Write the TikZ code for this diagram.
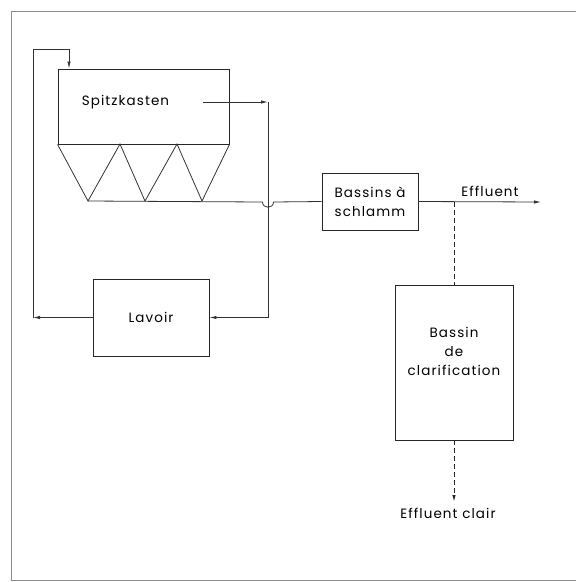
\documentclass[tikz,border=0pt]{standalone}
\usepackage{fontspec}
\setmainfont{Poppins}[LetterSpace=8]
\usetikzlibrary{arrows.meta}

\tikzset{
  unit/.style={draw=black!85, line width=0.9pt, minimum width=#1},
  flow/.style={draw=black!80, line width=0.8pt, -{Latex[length=7pt,width=3.4pt]}},
  pipe/.style={draw=black!80, line width=0.8pt},
  drain/.style={draw=black!85, line width=1pt, dash pattern=on 5pt off 3pt},
  tag/.style={font=\fontsize{13.5}{19}\selectfont, inner sep=0pt, align=center}
}

\begin{document}
\begin{tikzpicture}[x=1pt, y=-1pt]
            \useasboundingbox (0,0) rectangle (576,582);
            % frame
            \draw[black!45, line width=1pt] (576,11) -- (11,11) -- (11,580) -- (576,580);

            % units
            \node[unit=171pt, minimum height=75pt] (spitz) at (143.5,106.5) {};
            \node[tag] (spitzlbl) at (125.5,102) {Spitzkasten};
            \node[unit=96pt, minimum height=57pt, tag, draw] (bassins) at (370,201.5) {Bassins à\\schlamm};
            \node[unit=116pt, minimum height=77pt, tag, draw] (lavoir) at (151,317.5) {Lavoir};
            \node[unit=118pt, minimum height=155pt] (clarif) at (454,362.5) {};
            \node[tag] (clariflbl) at (454,351) {Bassin\\de\\clarification};

            % hopper
            \draw[pipe] (spitz.south west) -- (88,201) -- (120,144) -- (145,201)
                -- (177,144) -- (202,201) -- (spitz.south east);
            \coordinate (hopout) at (88,201);

            % points
            \coordinate (spitzout) at (203,102);
            \coordinate (riseR) at (268,102);
            \coordinate (downR) at (268,317.5);
            \coordinate (retL) at (33,317.5);
            \coordinate (upL) at (33,49);
            \coordinate (inL) at (69,49);
            \coordinate (effl) at (541,202);
            \coordinate (split) at (454,202);
            \coordinate (clair) at (454,502);

            % lines
            \draw[flow] (spitzout) -- (riseR);
            \draw[flow] (riseR) -- (downR) -- (lavoir.east);
            \draw[flow] (lavoir.west) -- (retL);
            \draw[flow] (retL) -- (upL) -- (inL) -- (inL |- spitz.north);
            \draw[pipe] (hopout) -- (262.5,202) .. controls (262.5,209) and (273.5,209) .. (273.5,202)
                -- (bassins.west);
            \draw[flow] (bassins.east) -- (effl);
            \node[tag, anchor=south] (effllbl) at (490,197) {Effluent};
            \draw[drain] (split) -- (clarif.north);
            \draw[drain, -{Latex[length=7pt,width=3.4pt]}] (clarif.south) -- (clair);
            \node[tag, anchor=north] (clairlbl) at (448,508) {Effluent clair};
\end{tikzpicture}
\end{document}
